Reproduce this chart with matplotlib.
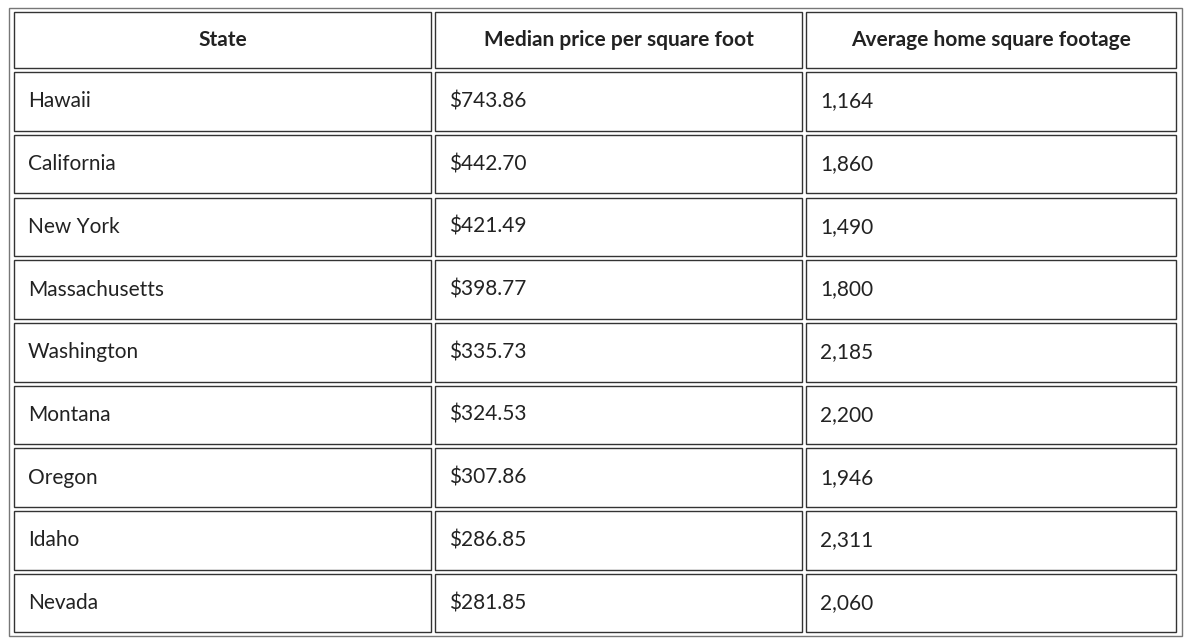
import matplotlib
matplotlib.use("Agg")
import matplotlib.pyplot as plt
from matplotlib.patches import Rectangle

headers = ["State", "Median price per square foot", "Average home square footage"]
states = ["Hawaii", "California", "New York", "Massachusetts", "Washington",
          "Montana", "Oregon", "Idaho", "Nevada"]
prices = ["$743.86", "$442.70", "$421.49", "$398.77", "$335.73",
          "$324.53", "$307.86", "$286.85", "$281.85"]
footage = ["1,164", "1,860", "1,490", "1,800", "2,185",
           "2,200", "1,946", "2,311", "2,060"]

W, H = 1192, 644
fig = plt.figure(figsize=(W/100, H/100), dpi=100)
ax = fig.add_axes([0, 0, 1, 1])
ax.set_xlim(0, W); ax.set_ylim(H, 0); ax.axis("off")

col_x = [(14, 431), (435, 802), (806, 1176)]
top, head_h, row_h, gap = 12, 56, 58.5, 4.2
ax.add_patch(Rectangle((9, 8), 1173, 628, fill=False, ec="#777777", lw=1))

rows = [headers] + [list(r) for r in zip(states, prices, footage)]
y = top
for i, row in enumerate(rows):
    h = head_h if i == 0 else row_h
    for j, (x0, x1) in enumerate(col_x):
        ax.add_patch(Rectangle((x0, y), x1 - x0, h, fill=False, ec="#333333", lw=1))
        if i == 0:
            ax.text((x0 + x1) / 2, y + h / 2, row[j], ha="center", va="center",
                    fontsize=15, fontweight="bold", family="Lato", color="#222222")
        else:
            ax.text(x0 + 14, y + h / 2, row[j], ha="left", va="center",
                    fontsize=15, family="Lato", color="#222222")
    y += h + gap

fig.savefig("out.png", dpi=100)
